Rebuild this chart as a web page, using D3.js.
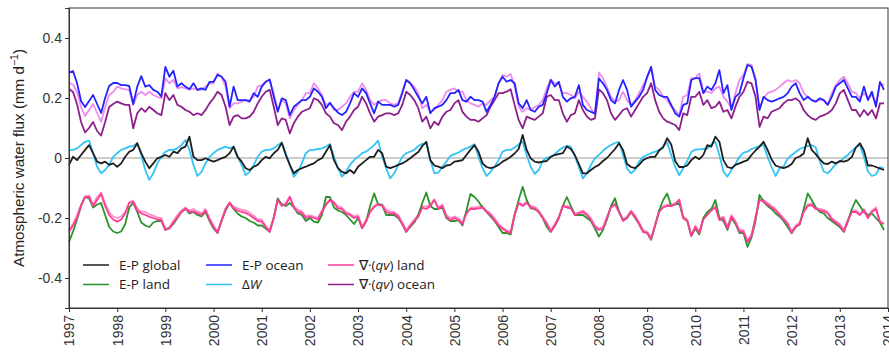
<!DOCTYPE html>
<html>
<head>
<meta charset="utf-8">
<script src="https://cdn.jsdelivr.net/npm/d3@7"></script>
<style>
  body { margin: 0; background: #fff; }
  svg { display: block; }
  .tick text { font-family: "Liberation Sans", Arial, sans-serif; font-size: 14px; fill: #333; }
  .legend text { font-family: "Open Sans", sans-serif; font-size: 13.5px; fill: #222; }
</style>
</head>
<body>
<div id="chart"></div>
<script>
// monthly values, Jan 1997 .. Dec 2013 (12 per row)
const startYear = 1997;

const epGlobal = [
  -.023,.004,-.007,.01,.027,.043,.016,-.012,-.018,-.012,-.023,-.018,
  -.029,-.018,.004,.021,.027,.049,.016,-.012,-.034,-.018,-.001,.004,
  .01,.004,.021,.016,.032,.038,.071,.004,-.007,-.007,-.001,-.007,
  -.012,-.007,-.001,.004,.016,.038,.004,-.012,-.034,-.04,-.029,-.023,
  -.007,.004,-.001,.016,.027,.051,.01,-.023,-.051,-.04,-.034,-.029,
  -.023,-.018,-.007,-.001,.021,.043,-.007,-.034,-.046,-.051,-.04,-.051,
  -.029,-.018,-.007,.004,.004,.027,.016,-.029,-.034,-.029,-.023,-.018,
  -.01,-.001,.01,.02,.04,.054,-.007,-.025,-.029,-.034,-.025,-.023,
  -.012,-.01,-.007,.01,.027,.043,.021,-.018,-.03,-.034,-.03,-.023,
  -.012,-.005,.004,.015,.03,.077,.027,-.001,-.012,-.015,-.012,-.01,
  .004,.01,.013,.016,.038,.03,.01,-.02,-.051,-.051,-.04,-.03,
  -.023,-.01,.0,.015,.03,.049,.027,-.02,-.03,-.034,-.023,-.007,
  .0,.004,.004,.025,.036,.066,.045,-.01,-.03,-.03,-.025,-.007,
  .004,-.004,.01,.043,.038,.071,.054,-.007,-.03,-.034,-.023,-.018,
  -.012,-.007,.01,.025,.038,.054,.027,-.005,-.025,-.03,-.034,-.029,
  -.02,.0,.005,.015,.066,.027,.013,-.004,-.018,-.02,-.012,-.018,
  -.01,-.012,-.008,.004,.035,.049,.025,-.025,-.025,-.03,-.035,-.04
];

const epLand = [
  -.28,-.245,-.205,-.16,-.13,-.135,-.165,-.155,-.15,-.19,-.23,-.245,
  -.25,-.245,-.22,-.165,-.15,-.18,-.215,-.225,-.23,-.215,-.21,-.21,
  -.24,-.234,-.22,-.2,-.18,-.17,-.185,-.18,-.19,-.195,-.18,-.21,
  -.235,-.25,-.21,-.175,-.15,-.17,-.185,-.195,-.2,-.21,-.215,-.225,
  -.225,-.235,-.246,-.2,-.135,-.155,-.16,-.15,-.165,-.185,-.19,-.21,
  -.2,-.212,-.215,-.19,-.13,-.13,-.165,-.175,-.18,-.19,-.205,-.22,
  -.2,-.234,-.212,-.16,-.118,-.155,-.157,-.19,-.19,-.19,-.2,-.22,
  -.246,-.23,-.215,-.19,-.15,-.115,-.16,-.17,-.17,-.165,-.2,-.21,
  -.21,-.207,-.225,-.175,-.12,-.13,-.145,-.165,-.18,-.195,-.21,-.23,
  -.25,-.25,-.255,-.19,-.14,-.096,-.14,-.168,-.17,-.18,-.2,-.23,
  -.246,-.226,-.2,-.16,-.13,-.16,-.19,-.19,-.19,-.2,-.21,-.235,
  -.262,-.24,-.205,-.16,-.134,-.18,-.207,-.2,-.18,-.2,-.22,-.246,
  -.25,-.273,-.225,-.175,-.14,-.118,-.16,-.155,-.15,-.2,-.21,-.26,
  -.235,-.255,-.2,-.18,-.17,-.14,-.2,-.21,-.24,-.2,-.22,-.25,
  -.25,-.296,-.265,-.21,-.123,-.146,-.16,-.17,-.185,-.195,-.21,-.23,
  -.251,-.23,-.222,-.17,-.118,-.14,-.165,-.18,-.185,-.2,-.21,-.22,
  -.23,-.246,-.212,-.17,-.14,-.16,-.18,-.19,-.185,-.2,-.215,-.24
];

const epOcean = [
  .285,.29,.25,.19,.17,.19,.21,.18,.15,.20,.24,.25,
  .25,.243,.243,.24,.18,.238,.273,.238,.243,.227,.221,.205,
  .304,.271,.291,.238,.249,.238,.229,.249,.227,.232,.227,.254,
  .254,.277,.271,.254,.171,.238,.193,.193,.193,.188,.216,.204,
  .238,.254,.262,.204,.154,.199,.193,.143,.171,.182,.193,.193,
  .204,.232,.221,.204,.166,.184,.166,.151,.143,.154,.182,.216,
  .204,.232,.216,.182,.149,.188,.177,.177,.177,.171,.177,.216,
  .26,.249,.227,.204,.182,.204,.149,.166,.171,.177,.193,.216,
  .216,.227,.193,.188,.204,.193,.193,.188,.154,.177,.204,.249,
  .271,.254,.26,.249,.182,.166,.193,.16,.154,.171,.177,.216,
  .26,.238,.254,.204,.188,.199,.204,.243,.177,.16,.154,.149,
  .265,.249,.227,.193,.182,.227,.26,.227,.171,.188,.204,.227,
  .271,.304,.227,.21,.204,.204,.177,.149,.138,.177,.182,.26,
  .266,.266,.216,.238,.227,.249,.293,.216,.243,.16,.204,.216,
  .266,.31,.304,.26,.16,.204,.193,.188,.193,.199,.204,.216,
  .238,.249,.216,.193,.204,.193,.188,.199,.193,.177,.204,.238,
  .249,.26,.232,.204,.204,.188,.238,.193,.221,.171,.254,.227
];

const deltaW = [
  .027,.027,.032,.043,.054,.058,.016,-.029,-.051,-.04,-.023,.004,
  .016,.027,.032,.038,.04,.049,.01,-.04,-.073,-.051,-.018,.004,
  .021,.027,.027,.032,.043,.06,.027,-.023,-.06,-.046,-.018,.004,
  .016,.027,.032,.038,.032,.038,.004,-.023,-.057,-.046,-.023,.004,
  .021,.027,.027,.032,.043,.051,.016,-.023,-.062,-.046,-.018,.016,
  .027,.027,.03,.032,.038,.047,.004,-.034,-.062,-.046,-.023,-.007,
  .004,.016,.021,.032,.043,.058,.004,-.034,-.068,-.051,-.023,.004,
  .016,.021,.027,.04,.047,.049,-.007,-.051,-.049,-.029,-.012,.007,
  .013,.018,.027,.032,.038,.046,.004,-.034,-.06,-.046,-.029,-.007,
  .021,.027,.027,.035,.045,.054,.01,-.029,-.053,-.04,-.01,.001,
  .004,.013,.025,.035,.041,.038,.005,-.03,-.068,-.051,-.023,-.001,
  .01,.024,.035,.043,.05,.054,.01,-.035,-.051,-.04,-.012,.004,
  .01,.016,.021,.027,.038,.052,.01,-.03,-.057,-.034,-.01,.02,
  .028,.029,.03,.032,.045,.054,.01,-.045,-.062,-.04,-.02,.004,
  .018,.021,.03,.035,.04,.043,.004,-.03,-.06,-.035,-.028,-.002,
  .01,.02,.03,.035,.04,.043,.035,-.01,-.045,-.051,-.036,-.02,
  -.012,.0,.01,.024,.036,.043,.004,-.045,-.06,-.055,-.03,-.035
];

const divLand = [
  -.245,-.225,-.2,-.16,-.13,-.13,-.16,-.14,-.12,-.16,-.19,-.205,
  -.212,-.205,-.185,-.15,-.146,-.175,-.185,-.19,-.196,-.2,-.205,-.207,
  -.24,-.234,-.215,-.198,-.18,-.168,-.18,-.178,-.185,-.19,-.175,-.205,
  -.23,-.25,-.21,-.17,-.15,-.168,-.175,-.18,-.183,-.19,-.2,-.21,
  -.212,-.23,-.246,-.2,-.14,-.16,-.155,-.13,-.165,-.18,-.183,-.2,
  -.196,-.2,-.205,-.18,-.157,-.14,-.15,-.168,-.17,-.185,-.19,-.2,
  -.196,-.234,-.212,-.18,-.163,-.155,-.16,-.18,-.185,-.185,-.195,-.22,
  -.246,-.226,-.21,-.196,-.165,-.17,-.16,-.14,-.17,-.16,-.196,-.207,
  -.2,-.207,-.22,-.185,-.17,-.17,-.168,-.165,-.18,-.19,-.207,-.225,
  -.236,-.245,-.25,-.19,-.15,-.16,-.15,-.165,-.168,-.18,-.2,-.22,
  -.246,-.226,-.2,-.16,-.165,-.168,-.19,-.185,-.18,-.19,-.207,-.23,
  -.24,-.235,-.2,-.165,-.155,-.18,-.21,-.2,-.18,-.196,-.22,-.246,
  -.25,-.27,-.225,-.18,-.165,-.16,-.16,-.155,-.14,-.2,-.21,-.26,
  -.23,-.25,-.205,-.19,-.175,-.165,-.207,-.2,-.235,-.195,-.215,-.245,
  -.246,-.28,-.26,-.2,-.14,-.145,-.155,-.165,-.175,-.19,-.205,-.22,
  -.25,-.23,-.22,-.18,-.16,-.157,-.17,-.175,-.178,-.185,-.205,-.215,
  -.225,-.245,-.21,-.18,-.18,-.19,-.175,-.2,-.18,-.17,-.215,-.22
];

const divOcean = [
  .23,.22,.18,.12,.085,.1,.12,.09,.075,.12,.17,.18,
  .188,.182,.177,.177,.099,.149,.166,.154,.171,.16,.149,.143,
  .216,.193,.21,.177,.171,.16,.154,.143,.149,.143,.16,.182,
  .199,.221,.21,.171,.11,.138,.143,.132,.132,.138,.154,.182,
  .204,.221,.227,.171,.11,.132,.127,.082,.116,.138,.154,.16,
  .166,.199,.193,.177,.149,.138,.116,.11,.093,.121,.138,.16,
  .171,.204,.182,.149,.121,.138,.143,.149,.149,.143,.149,.177,
  .221,.21,.193,.166,.121,.138,.099,.121,.11,.138,.154,.16,
  .182,.193,.154,.138,.127,.127,.121,.132,.143,.171,.193,.216,
  .216,.221,.229,.177,.127,.099,.138,.132,.127,.138,.149,.204,
  .21,.193,.193,.149,.121,.143,.149,.193,.16,.138,.127,.132,
  .229,.216,.193,.149,.127,.143,.16,.166,.138,.16,.182,.204,
  .216,.249,.193,.154,.132,.121,.116,.11,.093,.149,.143,.204,
  .204,.221,.177,.193,.166,.171,.188,.154,.16,.132,.171,.204,
  .221,.254,.249,.204,.104,.138,.132,.154,.16,.166,.182,.193,
  .193,.199,.188,.16,.143,.132,.127,.138,.143,.149,.16,.182,
  .216,.227,.193,.16,.16,.138,.16,.143,.16,.132,.182,.182
];

// two unlabelled companion curves (light violet / light pink)
const oceanCompanion = [
  .25,.245,.22,.17,.14,.16,.18,.15,.12,.17,.21,.22,
  .238,.232,.229,.227,.177,.21,.221,.21,.221,.21,.204,.199,
  .266,.249,.26,.232,.236,.232,.229,.232,.227,.227,.238,.249,
  .249,.282,.271,.238,.166,.182,.182,.188,.193,.193,.204,.238,
  .243,.254,.26,.216,.16,.193,.182,.132,.16,.177,.193,.216,
  .216,.249,.232,.21,.177,.182,.16,.16,.171,.182,.204,.221,
  .221,.249,.227,.193,.177,.188,.193,.193,.182,.177,.182,.221,
  .26,.249,.238,.216,.166,.177,.154,.16,.177,.193,.221,.227,
  .232,.221,.221,.193,.182,.177,.171,.182,.177,.193,.204,.249,
  .277,.271,.28,.238,.171,.154,.166,.16,.169,.177,.193,.232,
  .262,.249,.249,.216,.216,.21,.199,.221,.204,.188,.166,.143,
  .285,.266,.236,.204,.188,.193,.221,.193,.177,.193,.216,.243,
  .266,.3,.238,.227,.204,.193,.171,.16,.143,.204,.21,.266,
  .266,.282,.221,.221,.216,.232,.238,.204,.188,.166,.216,.26,
  .277,.313,.31,.266,.166,.199,.216,.221,.227,.238,.249,.26,
  .254,.26,.249,.216,.204,.193,.188,.193,.193,.177,.216,.243,
  .26,.271,.249,.221,.216,.199,.216,.199,.21,.182,.249,.243
];

const landCompanion = [
  -.24,-.22,-.19,-.155,-.128,-.125,-.155,-.13,-.115,-.15,-.18,-.195,
  -.2,-.195,-.18,-.148,-.142,-.168,-.178,-.18,-.188,-.192,-.198,-.2,
  -.235,-.23,-.21,-.19,-.175,-.165,-.175,-.17,-.178,-.185,-.17,-.2,
  -.225,-.245,-.205,-.168,-.148,-.162,-.168,-.172,-.175,-.182,-.192,-.205,
  -.205,-.225,-.24,-.195,-.138,-.155,-.15,-.128,-.16,-.172,-.178,-.195,
  -.19,-.195,-.2,-.175,-.152,-.138,-.146,-.162,-.165,-.18,-.186,-.195,
  -.19,-.228,-.206,-.175,-.16,-.152,-.155,-.172,-.178,-.18,-.19,-.215,
  -.24,-.222,-.205,-.19,-.16,-.162,-.155,-.138,-.165,-.155,-.19,-.2,
  -.195,-.2,-.215,-.18,-.165,-.165,-.162,-.16,-.175,-.185,-.2,-.22,
  -.232,-.24,-.245,-.185,-.148,-.155,-.146,-.16,-.162,-.175,-.195,-.215,
  -.24,-.22,-.195,-.158,-.16,-.162,-.185,-.18,-.175,-.185,-.2,-.225,
  -.235,-.23,-.195,-.162,-.15,-.175,-.205,-.195,-.175,-.19,-.215,-.24,
  -.245,-.265,-.22,-.175,-.16,-.155,-.155,-.15,-.138,-.195,-.205,-.255,
  -.225,-.245,-.2,-.185,-.17,-.16,-.2,-.195,-.23,-.19,-.21,-.24,
  -.24,-.275,-.255,-.195,-.138,-.14,-.15,-.16,-.17,-.185,-.2,-.215,
  -.245,-.225,-.215,-.175,-.155,-.152,-.165,-.17,-.172,-.18,-.2,-.21,
  -.22,-.24,-.205,-.175,-.175,-.185,-.17,-.195,-.175,-.165,-.21,-.218
];

const yearTicks = [1997,1998,1999,2000,2001,2002,2003,2004,2005,2006,2007,2008,2009,2010,2011,2012,2013,2014];
const yTicks = [-0.4, -0.2, 0, 0.2, 0.4];

const width = 889, height = 353;
const margin = { left: 69, right: 1, top: 8, bottom: 45 };

const svg = d3.select('#chart').append('svg')
  .attr('width', width)
  .attr('height', height);

const x = d3.scaleLinear()
  .domain([1997, 2014])
  .range([margin.left, width - margin.right]);
const y = d3.scaleLinear()
  .domain([-0.5, 0.5])
  .range([height - margin.bottom, margin.top]);

// zero line
svg.append('line')
  .attr('x1', x(1997)).attr('x2', x(2014))
  .attr('y1', y(0)).attr('y2', y(0))
  .attr('stroke', '#9a9a9a')
  .attr('stroke-width', 1);

const line = d3.line()
  .x((d, i) => x(startYear + i / 12))
  .y(d => y(d));

// draw order: companions underneath
const series = [
  { values: oceanCompanion, color: '#ee8cee' },
  { values: landCompanion, color: '#ff8fc4' },
  { values: divOcean, color: '#8c1f8c' },
  { values: epOcean, color: '#2323ff' },
  { values: deltaW, color: '#33c3f5' },
  { values: epGlobal, color: '#1e1e1e' },
  { values: epLand, color: '#2a922a' },
  { values: divLand, color: '#ff3b98' }
];

series.forEach(s => {
  svg.append('path')
    .datum(s.values)
    .attr('fill', 'none')
    .attr('stroke', s.color)
    .attr('stroke-width', 1.8)
    .attr('stroke-linejoin', 'round')
    .attr('d', line);
});

// frame
svg.append('rect')
  .attr('x', x(1997)).attr('y', y(0.5))
  .attr('width', x(2014) - x(1997))
  .attr('height', y(-0.5) - y(0.5))
  .attr('fill', 'none')
  .attr('stroke', '#333')
  .attr('stroke-width', 1);

// axes
const yAxis = svg.append('g')
  .attr('transform', `translate(${x(1997)},0)`)
  .call(d3.axisLeft(y).tickValues(yTicks).tickSize(4).tickPadding(3)
    .tickFormat(d => d === 0 ? '0' : d.toFixed(1)));
yAxis.select('.domain').attr('stroke', '#333');
yAxis.selectAll('.tick line').attr('stroke', '#333');

const xAxis = svg.append('g')
  .attr('transform', `translate(0,${y(-0.5)})`)
  .call(d3.axisBottom(x).tickValues(yearTicks).tickSize(4).tickFormat(d3.format('d')));
xAxis.select('.domain').attr('stroke', '#333');
xAxis.selectAll('.tick line').attr('stroke', '#333');
xAxis.selectAll('.tick text')
  .attr('transform', 'rotate(-90)')
  .attr('text-anchor', 'end')
  .attr('x', -7)
  .attr('y', 0)
  .attr('dy', '0.35em');

// y label
svg.append('text')
  .attr('transform', `translate(24,${y(0)}) rotate(-90)`)
  .attr('text-anchor', 'middle')
  .attr('font-family', '"Liberation Sans", Arial, sans-serif')
  .attr('font-size', 15.2)
  .attr('fill', '#222')
  .text('Atmospheric water flux (mm d')
  .call(t => {
    t.append('tspan').attr('dy', -6).attr('font-size', 10.5).text('\u22121');
    t.append('tspan').attr('dy', 6).text(')');
  });

// legend
const legendItems = [
  { parts: [['E-P global', false]], color: '#1e1e1e', col: 0, row: 0 },
  { parts: [['E-P land', false]], color: '#2a922a', col: 0, row: 1 },
  { parts: [['E-P ocean', false]], color: '#2323ff', col: 1, row: 0 },
  { parts: [['\u0394', false], ['W', true]], color: '#33c3f5', col: 1, row: 1 },
  { parts: [['\u2207\u00b7(', false], ['qv', true], [') land', false]], color: '#ff3b98', col: 2, row: 0 },
  { parts: [['\u2207\u00b7(', false], ['qv', true], [') ocean', false]], color: '#8c1f8c', col: 2, row: 1 }
];
const legendCols = [83, 206, 328];
const legendTextGap = [36, 36, 31];
const legendRows = [265, 284.5];

const legend = svg.append('g').attr('class', 'legend');
legendItems.forEach(item => {
  const lx = legendCols[item.col], ly = legendRows[item.row];
  legend.append('line')
    .attr('x1', lx).attr('x2', lx + 26)
    .attr('y1', ly).attr('y2', ly)
    .attr('stroke', item.color)
    .attr('stroke-width', 1.5);
  const t = legend.append('text')
    .attr('x', lx + legendTextGap[item.col]).attr('y', ly)
    .attr('dy', '0.35em');
  item.parts.forEach(p => {
    t.append('tspan').attr('font-style', p[1] ? 'italic' : 'normal').text(p[0]);
  });
});
</script>
</body>
</html>
